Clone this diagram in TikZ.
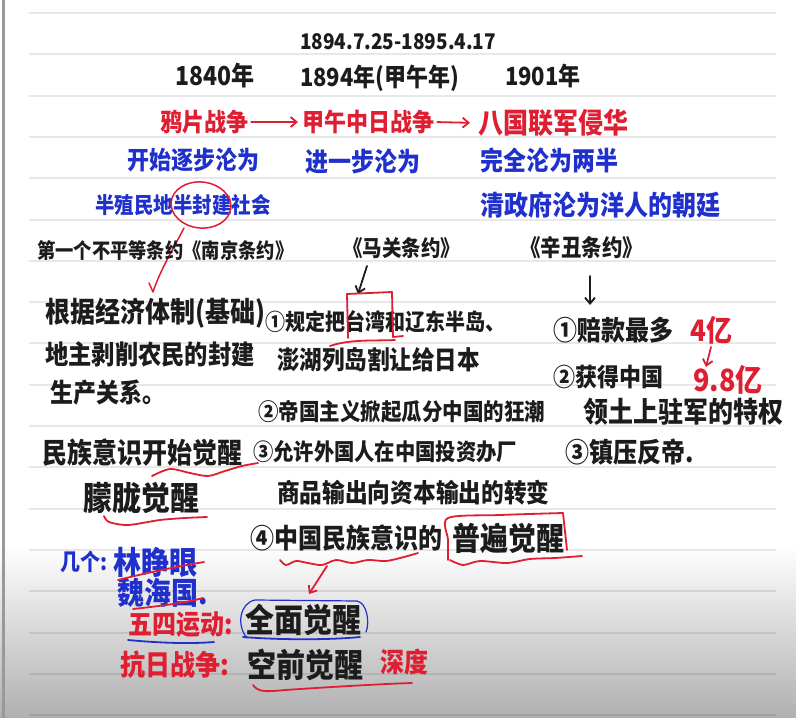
\documentclass[tikz,border=0pt]{standalone}
\usepackage{fontspec}
\setmainfont{Noto Sans CJK SC}[FakeStretch=0.88]
\usetikzlibrary{arrows.meta}
\definecolor{hred}{RGB}{224,30,50}
\definecolor{hblue}{RGB}{32,48,205}
\definecolor{hink}{RGB}{28,28,28}
\newcommand{\fs}[1]{\fontsize{\fpeval{1.136*#1}pt}{\fpeval{1.136*#1}pt}\selectfont\bfseries}
\begin{document}
\begin{tikzpicture}[x=1pt,y=-1pt,
  t/.style={anchor=west,inner sep=0pt,text=hink},
  tr/.style={t,text=hred},
  tb/.style={t,text=hblue},
  rule/.style={draw=black,opacity=0.09,line width=2pt},
  pen/.style={line width=1.8pt,line cap=round,line join=round},
  redpen/.style={pen,draw=hred},
  bluepen/.style={pen,draw=hblue},
  inkarrow/.style={pen,draw=hink,-{Straight Barb[length=6pt,width=10pt]}},
  redarrow/.style={pen,draw=hred,-{Straight Barb[length=6pt,width=10pt]}}]
\useasboundingbox (0,0) rectangle (796,718);
\fill[white] (0,0) rectangle (796,718);
\shade[top color=white,bottom color=black!31] (0,545) rectangle (796,718);
\fill[black!40] (2,0) rectangle (5,718);
\foreach \k in {0,...,17}{
  \draw[rule] (29,{13+41.3*\k}) -- (776,{13+41.3*\k});
}
% top
\node[t,font=\fs{19}] (date) at (300,42) {1894.7.25-1895.4.17};
\node[t,font=\fs{23}] (y1840) at (175,76) {1840年};
\node[t,font=\fs{22}] (y1894) at (300,78) {1894年(甲午年)};
\node[t,font=\fs{22}] (y1901) at (505,76) {1901年};
% red row
\node[tr,font=\fs{22}] (opium) at (160,122) {鸦片战争};
\node[tr,font=\fs{22}] (jiawu) at (302,122) {甲午中日战争};
\node[tr,font=\fs{25}] (baguo) at (478,123) {八国联军侵华};
\draw[redarrow,shorten <=3pt,shorten >=4pt] (opium.east) -- (jiawu.west);
\draw[redarrow,shorten <=3pt,shorten >=8pt] (jiawu.east) -- (baguo.west);
% blue rows
\node[tb,font=\fs{22}] (kaishi) at (127,160) {开始逐步沦为};
\node[tb,font=\fs{23}] (jinyibu) at (305,162) {进一步沦为};
\node[tb,font=\fs{23}] (wanquan) at (480,160) {完全沦为两半};
\node[tb,font=\fs{19.5}] (banzhi) at (95,205) {半殖民地半封建社会};
\node[tb,font=\fs{24}] (qing) at (480,205) {清政府沦为洋人的朝廷};
\draw[redpen,line width=1.5pt,rotate around={-6:(201,205)}] (201,205) ellipse [x radius=30,y radius=23];
\draw[redpen,line width=1.5pt] (149,283) -- (153,292) .. controls (160,270) and (177,242) .. (184,228);
% treaties
\node[t,font=\fs{18.3}] (nanjing) at (37,251) {第一个不平等条约《南京条约》};
\node[t,font=\fs{19.5}] (maguan) at (343,248) {《马关条约》};
\node[t,font=\fs{20.5}] (xinchou) at (520,248) {《辛丑条约》};
\coordinate (ma1) at (367,266);
\coordinate (ma2) at (358,294);
\draw[inkarrow] (ma1) -- (ma2);
\coordinate (xc1) at (590,276);
\coordinate (xc2) at (590,305);
\draw[inkarrow] (xc1) -- (xc2);
% left column
\node[t,font=\fs{25}] (genju) at (45,313) {根据经济体制(基础)};
\node[t,font=\fs{23.3}] (dizhu) at (45,354) {地主剥削农民的封建};
\node[t,font=\fs{23}] (shengchan) at (50,393) {生产关系。};
\node[t,font=\fs{25}] (minzu) at (42,453) {民族意识开始觉醒};
\node[t,font=\fs{29}] (menglong) at (83,498) {朦胧觉醒};
\draw[redpen] plot[smooth] coordinates {(152,476) (170,469) (190,473) (208,476) (225,471) (242,466) (258,463)};
\draw[redpen] plot[smooth] coordinates {(104,516) (109,522) (128,525) (160,520) (185,518) (207,517)};
% middle column
\node[t,font=\fs{20}] (g1) at (265,322) {①规定把台湾和辽东半岛、};
\node[t,font=\fs{22.5}] (penghu) at (277,360) {澎湖列岛割让给日本};
\node[t,font=\fs{20.5}] (g2) at (258,412) {②帝国主义掀起瓜分中国的狂潮};
\node[t,font=\fs{20.3}] (g3) at (253,452) {③允许外国人在中国投资办厂};
\node[t,font=\fs{22.7}] (shangpin) at (277,493) {商品输出向资本输出的转变};
\node[t,font=\fs{24}] (g4) at (250,538) {④中国民族意识的};
\node[t,font=\fs{28}] (pubian) at (452,538) {普遍觉醒};
\draw[redpen] (347,294) -- (348,338);
\draw[redpen] (347,294) -- (392,292) -- (393,337) -- (403,336);
\draw[redpen] (330,346) .. controls (350,339) and (375,341) .. (395,340);
\draw[redpen] plot[smooth] coordinates {(448,560) (448,540) (448,518) (500,515) (563,513)};
\draw[redpen] (563,513) -- (567,550);
\draw[redpen] plot[smooth] coordinates {(450,560) (463,565) (480,561) (507,563) (530,559) (555,558) (582,556)};
\draw[redpen] plot[smooth] coordinates {(280,560) (286,565) (296,561) (308,563) (322,565) (336,560) (352,563) (368,560) (386,561) (404,557) (418,553)};
\coordinate (w1) at (327,566);
\coordinate (w2) at (309,594);
\draw[redarrow] (w1) -- (w2);
% right column
\node[t,font=\fs{24}] (peikuan) at (553,330) {①赔款最多};
\node[tr,font=\fs{26}] (siyi) at (690,330) {4亿};
\node[t,font=\fs{22}] (huode) at (553,377) {②获得中国};
\node[tr,font=\fs{27}] (jiuba) at (693,380) {9.8亿};
\coordinate (s1) at (711,347);
\coordinate (s2) at (706,367);
\draw[redarrow] (s1) -- (s2);
\node[t,font=\fs{25}] (lingtu) at (583,412) {领土上驻军的特权};
\node[t,font=\fs{24}] (zhenya) at (565,452) {③镇压反帝.};
% bottom left
\node[tb,font=\fs{20}] (jige) at (60,562) {几个:};
\node[tb,font=\fs{28}] (lin) at (113,562) {林睁眼};
\node[tb,font=\fs{27}] (wei) at (117,593) {魏海国.};
\draw[redpen] (118,580) .. controls (150,572) and (180,566) .. (204,562);
\draw[redpen] (133,609) .. controls (160,606) and (185,603) .. (203,598);
\node[tr,font=\fs{24}] (wusi) at (128,625) {五四运动:};
\node[t,font=\fs{29}] (quanmian) at (245,620) {全面觉醒};
\draw[bluepen] (128,640) .. controls (160,643) and (190,644) .. (214,642);
\draw[bluepen,line width=1.2pt] (247,638) .. controls (236,625) and (240,603) .. (255,600) -- (357,601) .. controls (367,603) and (370,622) .. (366,632);
\draw[bluepen] (243,637) .. controls (280,640) and (330,640) .. (360,637);
\node[tr,font=\fs{25}] (kangri) at (120,665) {抗日战争:};
\node[t,font=\fs{29}] (kongqian) at (247,665) {空前觉醒};
\node[tr,font=\fs{24}] (shendu) at (380,662) {深度};
\draw[redpen] (253,685) .. controls (258,692) and (265,692) .. (285,690) .. controls (330,687) and (380,684) .. (412,683);
\end{tikzpicture}
\end{document}
